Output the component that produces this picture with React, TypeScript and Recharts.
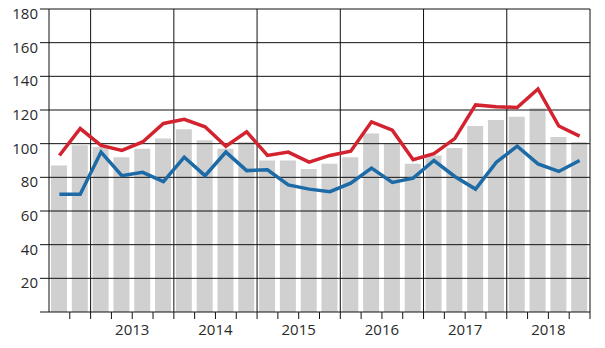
import React from "react";
import {
  ComposedChart,
  Bar,
  Line,
  XAxis,
  YAxis,
  ReferenceLine,
} from "recharts";

// quarters Q3 2012 .. Q4 2018
const quarters = [
  "2012Q3", "2012Q4",
  "2013Q1", "2013Q2", "2013Q3", "2013Q4",
  "2014Q1", "2014Q2", "2014Q3", "2014Q4",
  "2015Q1", "2015Q2", "2015Q3", "2015Q4",
  "2016Q1", "2016Q2", "2016Q3", "2016Q4",
  "2017Q1", "2017Q2", "2017Q3", "2017Q4",
  "2018Q1", "2018Q2", "2018Q3", "2018Q4",
];

const barValues = [
  87, 99, 98, 92, 97, 103, 108.5, 102, 97, 101, 90, 90, 85,
  88, 92, 106, 100, 88, 93, 97.5, 110.5, 114, 116, 121, 104, 101,
];

const redValues = [
  93, 109, 99, 96, 101, 112, 114.5, 110, 98.5, 107, 93, 95, 89,
  93, 95.5, 113, 108, 90.5, 94, 103, 123, 122, 121.5, 132.5, 110.5, 104.5,
];

const blueValues = [
  70, 70, 95, 81, 83, 77.5, 92, 81, 95, 84, 84.5, 75.5, 73,
  71.5, 76.5, 85.5, 77, 79.5, 90, 80.5, 73, 89, 98.5, 88, 83.5, 90,
];

const yearLabels = ["2013", "2014", "2015", "2016", "2017", "2018"];
const yTicks = [0, 20, 40, 60, 80, 100, 120, 140, 160, 180];

const data = quarters.map((q, i) => ({
  q,
  x: i + 0.5,
  bar: barValues[i],
  red: redValues[i],
  blue: blueValues[i],
}));

const quarterTicks = quarters.map((_, i) => i + 1);
const yearBounds = yearLabels.map((_, i) => 2 + i * 4);

const FONT = "'Open Sans', sans-serif";

function YTick(props: any) {
  const { x, y, payload } = props;
  if (payload.value === 0) return null;
  return (
    <text
      x={x}
      y={y + 4}
      textAnchor="end"
      dominantBaseline="central"
      fontFamily={FONT}
      fontSize={15}
      fill="#2a2a2a"
    >
      {payload.value}
    </text>
  );
}

function XTick(props: any) {
  const { x, y, payload } = props;
  const v = payload.value;
  if (v % 4 !== 0) return null;
  const label = yearLabels[v / 4 - 1];
  if (!label) return null;
  return (
    <text
      x={x}
      y={y + 8}
      textAnchor="middle"
      dominantBaseline="central"
      fontFamily={FONT}
      fontSize={15}
      fill="#2a2a2a"
    >
      {label}
    </text>
  );
}

export default function App() {
  return (
    <div style={{ position: "absolute", left: 0, top: 0, background: "#fff" }}>
      <ComposedChart
        width={605}
        height={348}
        data={data}
        margin={{ top: 9, right: 15, left: 0, bottom: 0 }}
      >
        <XAxis
          dataKey="x"
          type="number"
          height={36}
          domain={[0, 26]}
          ticks={quarterTicks}
          interval={0}
          tickSize={7}
          tick={<XTick />}
          axisLine={{ stroke: "#111", strokeWidth: 1 }}
          tickLine={{ stroke: "#111", strokeWidth: 1 }}
        />
        <YAxis
          width={49}
          domain={[0, 180]}
          ticks={yTicks}
          interval={0}
          tickSize={9}
          tick={<YTick />}
          axisLine={{ stroke: "#111", strokeWidth: 1 }}
          tickLine={{ stroke: "#111", strokeWidth: 1 }}
        />
        <Bar dataKey="bar" fill="#d0d0d0" barSize={16} isAnimationActive={false} />
        {yTicks.slice(1).map((t) => (
          <ReferenceLine key={"h" + t} y={t} stroke="#111" strokeWidth={1} />
        ))}
        {yearBounds.map((b) => (
          <ReferenceLine key={"v" + b} x={b} stroke="#111" strokeWidth={1} />
        ))}
        <ReferenceLine x={26} stroke="#111" strokeWidth={1} />
        <Line
          dataKey="red"
          stroke="#d2232f"
          strokeWidth={3.5}
          dot={false}
          strokeLinejoin="miter"
          isAnimationActive={false}
        />
        <Line
          dataKey="blue"
          stroke="#1c6aa6"
          strokeWidth={3.5}
          dot={false}
          strokeLinejoin="miter"
          isAnimationActive={false}
        />
      </ComposedChart>
    </div>
  );
}
